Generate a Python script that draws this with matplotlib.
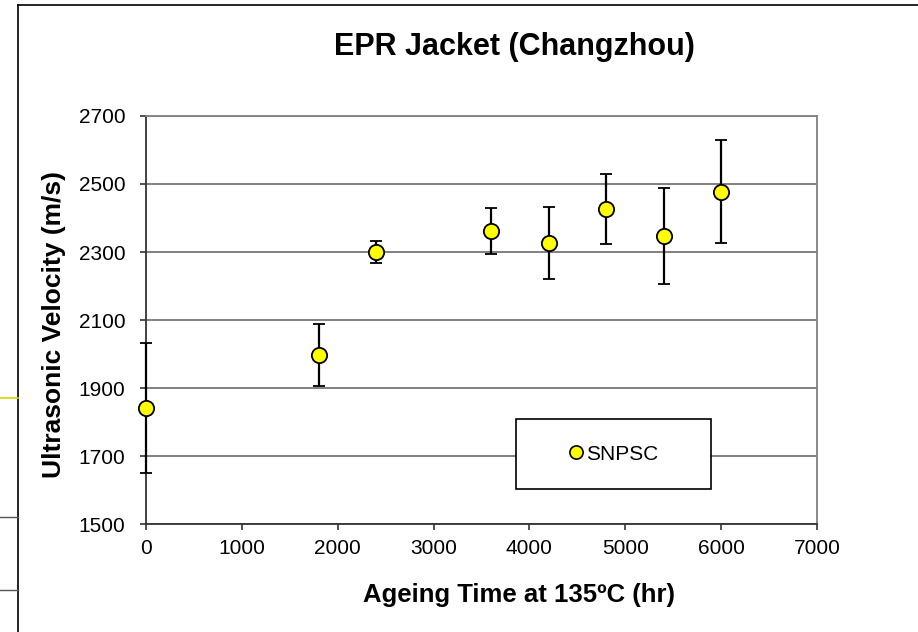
import matplotlib
matplotlib.use("Agg")
import matplotlib.pyplot as plt
from matplotlib.patches import Rectangle
from matplotlib.lines import Line2D

plt.rcParams['font.family'] = ['Liberation Sans', 'DejaVu Sans']

hours = [0, 1800, 2400, 3600, 4200, 4800, 5400, 6000]
velocity = [1841, 1997, 2300, 2362, 2327, 2426, 2347, 2477]
err = [190, 90, 32, 67, 105, 102, 141, 151]
xticks = [0, 1000, 2000, 3000, 4000, 5000, 6000, 7000]
yticks = [1500, 1700, 1900, 2100, 2300, 2500, 2700]

fig = plt.figure(figsize=(9.18, 6.32), dpi=100)
ax = fig.add_axes([146/918, 1-524/632, (817-146)/918, (524-116)/632])

ax.set_xlim(0, 7000)
ax.set_ylim(1500, 2700)
ax.set_xticks(xticks)
ax.set_yticks(yticks)
ax.yaxis.grid(True, color='#808080', linewidth=1.4)
ax.set_axisbelow(True)

ax.errorbar(hours, velocity, yerr=err, fmt='o', color='black', ecolor='black',
            elinewidth=1.6, capsize=4, capthick=1.6, markersize=11,
            markerfacecolor='#FFFF00', markeredgecolor='black', markeredgewidth=1.3,
            zorder=3, clip_on=False)

for s in ['top', 'right']:
    ax.spines[s].set_color('#808080')
    ax.spines[s].set_linewidth(1.3)
for s in ['left', 'bottom']:
    ax.spines[s].set_color('#333333')
    ax.spines[s].set_linewidth(1.3)

ax.tick_params(axis='both', direction='out', length=4.5, width=1.2, colors='#333333',
               labelsize=15, labelcolor='black')
ax.tick_params(axis='x', pad=6)
ax.tick_params(axis='y', pad=10.5)

ax.set_xlabel('Ageing Time at 135ºC (hr)', fontsize=18.5, fontweight='bold')
ax.set_ylabel('Ultrasonic Velocity (m/s)', fontsize=19, fontweight='bold')
ax.xaxis.set_label_coords((519-146)/671, (524-595)/408)
ax.yaxis.set_label_coords((54-146)/671, (524-324)/408)
ax.xaxis.label.set_va('center')
ax.yaxis.label.set_va('center')

fig.text(514/918, 1-47/632, 'EPR Jacket (Changzhou)', fontsize=22, fontweight='bold',
         ha='center', va='center')

# legend box
bx0, bx1 = (516-146)/671, (711-146)/671
by0, by1 = (524-489)/408, (524-419)/408
ax.add_patch(Rectangle((bx0, by0), bx1-bx0, by1-by0, transform=ax.transAxes,
                       facecolor='white', edgecolor='black', linewidth=1.2, zorder=4))
h = Line2D([], [], marker='o', linestyle='none', markersize=9.5,
           markerfacecolor='#FFFF00', markeredgecolor='black', markeredgewidth=1.2)
leg = ax.legend([h], ['SNPSC'], loc='center', bbox_to_anchor=((bx0+bx1)/2, (by0+by1)/2),
                bbox_transform=ax.transAxes, frameon=False, fontsize=15,
                handlelength=0.7, handletextpad=0.15)
leg.set_zorder(5)

# border artifacts of the original screenshot
fig.add_artist(Line2D([18/918, 18/918], [0, 1-5/632], color='black', linewidth=1.2))
fig.add_artist(Line2D([18/918, 1], [1-5/632, 1-5/632], color='black', linewidth=1.2))
fig.add_artist(Line2D([0, 18/918], [1-398/632, 1-398/632], color='#d8d800', linewidth=1.2))
fig.add_artist(Line2D([0, 18/918], [1-517/632, 1-517/632], color='#555555', linewidth=1.0))
fig.add_artist(Line2D([0, 18/918], [1-590/632, 1-590/632], color='#555555', linewidth=1.0))

fig.savefig('out.png', dpi=100)
